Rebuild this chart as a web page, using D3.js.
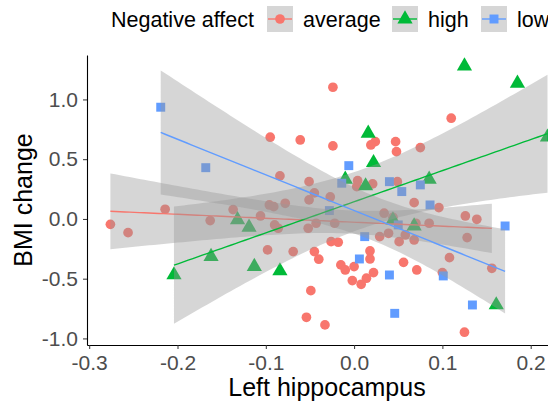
<!DOCTYPE html>
<html lang="en">
<head>
    <meta charset="UTF-8">
    <title>BMI change vs left hippocampus</title>
    <script src="https://cdn.jsdelivr.net/npm/d3@7"></script>
    <style>
        body { margin: 0; background: #fff; }
        text { font-family: "Liberation Sans", Arial, sans-serif; }
    </style>
</head>
<body>
<script>

    // groups, in legend order
    var groups = ["average", "high", "low"];
    var colors = ["#F8766D", "#00BA38", "#619CFF"];

    // points: [left hippocampus, BMI change]
    var averagePts = [
        [-0.276, -0.045], [-0.256, -0.115], [-0.214, 0.081], [-0.163, -0.014], [-0.137, 0.078],
        [-0.106, 0.025], [-0.096, 0.117], [-0.091, 0.103], [-0.078, 0.131], [-0.090, -0.050],
        [-0.086, -0.078], [-0.095, 0.684], [-0.061, 0.661], [-0.084, 0.360], [-0.024, 1.102],
        [-0.024, 0.611], [0.024, 0.647], [0.019, 0.619], [0.004, 0.320], [0.003, 0.270],
        [0.021, 0.293], [-0.051, 0.312], [-0.045, 0.218], [-0.027, 0.184], [-0.051, 0.159],
        [0.110, 0.843], [0.047, 0.647], [0.048, 0.563], [0.075, 0.597], [0.049, 0.312],
        [0.068, 0.136], [-0.043, -0.036], [-0.052, -0.078], [-0.022, -0.036], [-0.098, -0.259],
        [-0.069, -0.273], [-0.045, -0.273], [-0.040, -0.337], [-0.026, -0.190], [-0.018, -0.195],
        [0.018, -0.268], [0.018, -0.335], [-0.015, -0.385], [-0.010, -0.427], [0.000, -0.399],
        [0.022, -0.449], [0.014, -0.496], [-0.002, -0.516], [0.008, -0.547], [-0.049, -0.600],
        [-0.054, -0.823], [-0.033, -0.887], [0.034, 0.048], [0.029, -0.148], [0.039, -0.120],
        [0.096, 0.095], [0.126, 0.025], [0.139, -0.003], [0.044, 0.014], [0.070, -0.036],
        [0.085, -0.036], [0.051, -0.190], [0.058, -0.134], [0.068, -0.176], [0.128, -0.156],
        [0.108, -0.324], [0.056, -0.363], [0.071, -0.427], [0.100, -0.449], [0.156, -0.413],
        [0.125, -0.948]
    ];
    var highPts = [
        [0.125, 1.280], [0.185, 1.135], [0.016, 0.717], [0.022, 0.471], [-0.010, 0.332],
        [0.013, 0.276], [0.085, 0.332], [0.219, 0.684], [-0.204, -0.469], [-0.162, -0.315],
        [-0.132, -0.008], [-0.119, -0.070], [-0.113, -0.399], [-0.084, -0.435], [0.068, -0.059],
        [0.044, -0.010], [0.161, -0.720]
    ];
    var lowPts = [
        [-0.219, 0.935], [-0.168, 0.429], [-0.006, 0.446], [-0.014, 0.299], [0.040, 0.312],
        [0.054, 0.229], [0.075, 0.285], [-0.028, 0.070], [0.012, -0.148], [0.006, -0.335],
        [0.040, -0.469], [0.046, -0.790], [0.086, 0.117], [0.171, -0.059], [0.050, -0.050],
        [0.101, -0.477], [0.134, -0.720]
    ];
    var series = [averagePts, highPts, lowPts];

    var xTicks = [-0.3, -0.2, -0.1, 0.0, 0.1, 0.2];
    var yTicks = [-1.0, -0.5, 0.0, 0.5, 1.0];

    var w = 548, h = 402;
    var padL = 87, padR = 548, padT = 55, padB = 345;

    var svg = d3.select("body").append("svg")
        .attr("width", w)
        .attr("height", h);

    var x = d3.scaleLinear().domain([-0.3025, 0.2196]).range([padL, padR]);
    var y = d3.scaleLinear().domain([-1.055, 1.372]).range([padB, padT]);

    // t quantile 0.975 (Cornish-Fisher expansion)
    function tq(n) {
        var z = 1.959964;
        var g1 = (Math.pow(z, 3) + z) / 4;
        var g2 = (5 * Math.pow(z, 5) + 16 * Math.pow(z, 3) + 3 * z) / 96;
        var g3 = (3 * Math.pow(z, 7) + 19 * Math.pow(z, 5) + 17 * Math.pow(z, 3) - 15 * z) / 384;
        return z + g1 / n + g2 / (n * n) + g3 / (n * n * n);
    }

    // lm fit + 95% band, like geom_smooth(method = "lm")
    function fit(pts) {
        var n = pts.length;
        var mx = d3.mean(pts, d => d[0]), my = d3.mean(pts, d => d[1]);
        var sxx = d3.sum(pts, d => (d[0] - mx) * (d[0] - mx));
        var sxy = d3.sum(pts, d => (d[0] - mx) * (d[1] - my));
        var b = sxy / sxx, a = my - b * mx;
        var sse = d3.sum(pts, d => Math.pow(d[1] - a - b * d[0], 2));
        var s = Math.sqrt(sse / (n - 2));
        var t = tq(n - 2);
        var ext = d3.extent(pts, d => d[0]);
        return d3.range(80).map(function (i) {
            var xv = ext[0] + (ext[1] - ext[0]) * i / 79;
            var yv = a + b * xv;
            var se = s * Math.sqrt(1 / n + (xv - mx) * (xv - mx) / sxx);
            return {x: xv, y: yv, lo: yv - t * se, hi: yv + t * se};
        });
    }

    // points first
    var shapes = [d3.symbolCircle, d3.symbolTriangle, d3.symbolSquare];
    var sizes = [74, 100, 80];
    series.forEach(function (pts, g) {
        svg.append("g").selectAll("path")
            .data(pts)
            .enter()
            .append("path")
            .attr("transform", d => "translate(" + x(d[0]) + "," + y(d[1]) + ")")
            .attr("d", d3.symbol().type(shapes[g]).size(sizes[g]))
            .attr("fill", colors[g]);
    });

    // ribbons and lines per group
    var area = d3.area().x(d => x(d.x)).y0(d => y(d.lo)).y1(d => y(d.hi));
    var line = d3.line().x(d => x(d.x)).y(d => y(d.y));
    series.forEach(function (pts, g) {
        var f = fit(pts);
        svg.append("path").datum(f)
            .attr("d", area)
            .attr("fill", "#999999")
            .attr("fill-opacity", 0.4);
        svg.append("path").datum(f)
            .attr("d", line)
            .attr("fill", "none")
            .attr("stroke", colors[g])
            .attr("stroke-width", 1.4);
    });

    // axes (plain hyphen for negatives, like R)
    var fmt = d => d.toFixed(1);
    var xAxis = svg.append("g")
        .attr("transform", "translate(0," + padB + ")")
        .call(d3.axisBottom(x).tickValues(xTicks).tickFormat(fmt).tickSize(4).tickSizeOuter(0));
    var yAxis = svg.append("g")
        .attr("transform", "translate(" + padL + ",0)")
        .call(d3.axisLeft(y).tickValues(yTicks).tickFormat(fmt).tickSize(4).tickSizeOuter(0));
    [xAxis, yAxis].forEach(function (ax) {
        ax.select(".domain").attr("stroke", "#000").attr("stroke-width", 1.1);
        ax.selectAll(".tick line").attr("stroke", "#333");
        ax.selectAll(".tick text")
            .attr("fill", "#4D4D4D")
            .attr("font-size", "21px")
            .style("font-family", "'Liberation Sans', Arial, sans-serif");
    });
    xAxis.selectAll(".tick text").attr("dy", "0.85em");
    yAxis.selectAll(".tick text").attr("x", -9);

    // axis titles
    svg.append("text")
        .attr("x", 327)
        .attr("y", 396)
        .attr("text-anchor", "middle")
        .attr("font-size", "25px")
        .text("Left hippocampus");
    svg.append("text")
        .attr("transform", "translate(32," + (padT + padB) / 2 + ") rotate(-90)")
        .attr("text-anchor", "middle")
        .attr("font-size", "25px")
        .text("BMI change");

    // legend
    var legend = svg.append("g");
    legend.append("text")
        .attr("x", 111)
        .attr("y", 27)
        .attr("font-size", "21.5px")
        .text("Negative affect");
    var keyX = [267, 392, 481];
    groups.forEach(function (name, g) {
        var k = legend.append("g").attr("transform", "translate(" + keyX[g] + ",6)");
        k.append("rect").attr("width", 26).attr("height", 26).attr("fill", "#D6D6D6");
        k.append("line").attr("x1", 1).attr("x2", 25).attr("y1", 13).attr("y2", 13)
            .attr("stroke", colors[g]).attr("stroke-width", 1.4);
        k.append("path")
            .attr("transform", "translate(13,13)")
            .attr("d", d3.symbol().type(shapes[g]).size(sizes[g]))
            .attr("fill", colors[g]);
        legend.append("text")
            .attr("x", keyX[g] + 36)
            .attr("y", 27)
            .attr("font-size", "21.5px")
            .text(name);
    });

</script>
</body>
</html>
